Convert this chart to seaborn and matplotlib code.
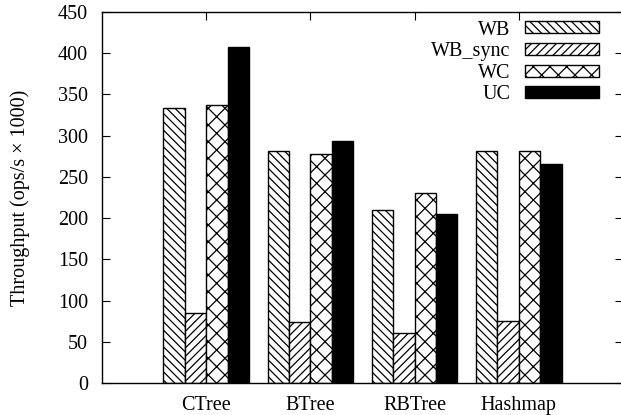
import matplotlib
matplotlib.use('Agg')
import matplotlib.pyplot as plt
import matplotlib.patches as mpatches
import seaborn as sns
import pandas as pd

categories = ['CTree', 'BTree', 'RBTree', 'Hashmap']
series = ['WB', 'WB_sync', 'WC', 'UC']
wb = [333, 282, 210, 281]
wb_sync = [85, 74, 61, 75]
wc = [337, 278, 230, 281]
uc = [407, 294, 205, 266]
y_ticks = list(range(0, 451, 50))

sns.set_theme(style='ticks')
plt.rcParams['font.family'] = ['Liberation Serif', 'DejaVu Serif']
plt.rcParams['hatch.linewidth'] = 0.9
plt.rcParams['text.color'] = 'black'
plt.rcParams['axes.labelcolor'] = 'black'
plt.rcParams['xtick.color'] = 'black'
plt.rcParams['ytick.color'] = 'black'

df = pd.DataFrame({
    'benchmark': categories * len(series),
    'mode': [s for s in series for _ in categories],
    'value': wb + wb_sync + wc + uc,
})

fig = plt.figure(figsize=(6.21, 4.15), dpi=100)
ax = fig.add_axes([102 / 621, 32 / 415, 521 / 621, 371 / 415])

colors = {'WB': 'white', 'WB_sync': 'white', 'WC': 'white', 'UC': 'black'}
hatches = ['\\\\\\\\', '////', 'xx', '']

sns.barplot(data=df, x='benchmark', y='value', hue='mode', order=categories,
            hue_order=series, palette=colors, width=0.82, edgecolor='black',
            linewidth=1, saturation=1, errorbar=None, legend=False, ax=ax)

for cont, h in zip(ax.containers, hatches):
    for p in cont.patches:
        p.set_hatch(h)
        p.set_edgecolor('black')

handles = [mpatches.Patch(facecolor=colors[s], edgecolor='black', hatch=h, linewidth=1)
           for s, h in zip(series, hatches)]
ax.legend(handles, series, loc='upper right', bbox_to_anchor=(0.954, 0.977),
          frameon=False, markerfirst=False, handlelength=3.7, handleheight=0.55,
          handletextpad=0.7, labelspacing=0.13, borderpad=0, borderaxespad=0,
          fontsize=14.5)

ax.set_xlim(-1, 4)
ax.set_ylim(0, 450)
ax.set_yticks(y_ticks)
ax.set_xlabel('')
ax.set_ylabel('Throughput (ops/s × 1000)', fontsize=14.5, labelpad=20)
ax.tick_params(axis='both', direction='in', length=6, width=0.8,
               top=True, right=True, labelsize=14.5)
ax.tick_params(axis='y', pad=10)
ax.tick_params(axis='x', pad=9)
for sp in ax.spines.values():
    sp.set_visible(True)
    sp.set_color('black')
    sp.set_linewidth(1)

fig.savefig('out.png', dpi=100)
